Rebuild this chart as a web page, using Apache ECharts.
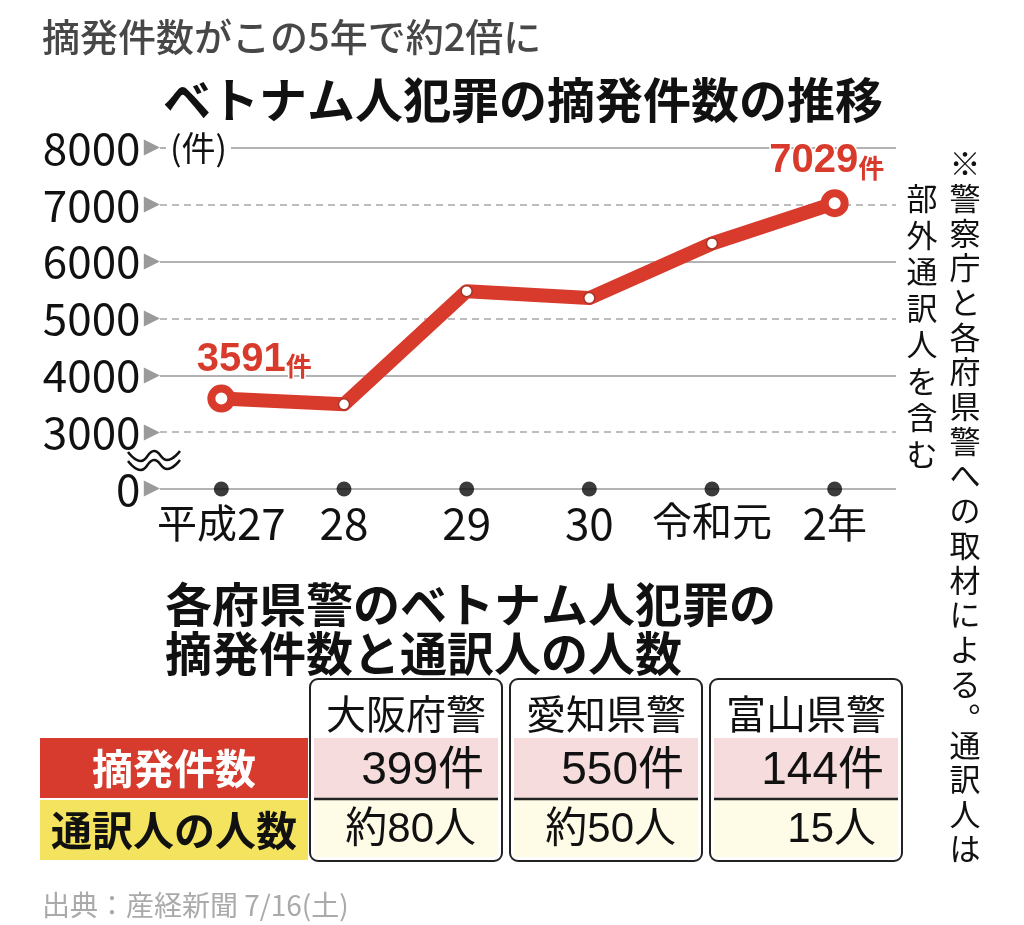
<!DOCTYPE html>
<html>
<head>
<meta charset="utf-8">
<title>ベトナム人犯罪の摘発件数の推移</title>
<script src="https://cdn.jsdelivr.net/npm/echarts@6/dist/echarts.min.js"></script>
<style>
  html, body { margin: 0; padding: 0; background: #fff; }
  #main { width: 1024px; height: 925px; }
</style>
</head>
<body>
<div id="main"></div>
<script>
// 折れ線: ベトナム人犯罪の摘発件数
const years = ['平成27', '28', '29', '30', '令和元', '2年'];
const arrests = [3591, 3490, 5480, 5360, 6320, 7029];

// y軸は0〜3000の間が省略されている。目盛り上の2000を「0」として描く
const AXIS_ZERO = 2000;
const AXIS_MAX = 8000;
const AXIS_STEP = 1000;

// 表: 各府県警
const prefs = ['大阪府警', '愛知県警', '富山県警'];
const prefArrests = [399, 550, 144];
const interpreters = [80, 50, 15];
const interpApprox = [true, true, false];

const subtitle = '摘発件数がこの5年で約2倍に';
const chartTitle = 'ベトナム人犯罪の摘発件数の推移';
const tableTitle = ['各府県警のベトナム人犯罪の', '摘発件数と通訳人の人数'];
const noteRight = ['※警察庁と各府県警への取材による。', '通訳人は'];
const noteLeft = '部外通訳人を含む';
const source = '出典：産経新聞 7/16(土)';

const RED = '#d83a2c';
const JP = '"Noto Sans CJK JP", sans-serif';
const SANS = '"Liberation Sans", "Noto Sans CJK JP", sans-serif';

const chart = echarts.init(document.getElementById('main'));

// 線上の点 (両端は白抜きの大きい丸+ラベル)
const lineData = arrests.map((v, i) => {
    const isEnd = i === 0 || i === arrests.length - 1;
    if (!isEnd) return {value: v};
    return {
        value: v,
        symbolSize: 20,
        itemStyle: {color: '#fff', borderColor: RED, borderWidth: 8},
        label: {show: true, offset: i === 0 ? [33, 0] : [-8, -3]}
    };
});

const graphic = [];
function text(x, y, str, font, fill, extra) {
    graphic.push({
        type: 'text', z: 100,
        style: Object.assign({x: x, y: y, text: str, font: font, fill: fill, verticalAlign: 'middle'}, extra || {})
    });
}
function vtext(x, top, str, pitch) {
    const chars = str.replace(/。/g, '︒').split('');
    text(x, top, chars.join('\n'), '31px ' + JP, '#111',
        {align: 'center', verticalAlign: 'top', lineHeight: pitch});
}

text(42, 37, subtitle, '500 38px ' + JP, '#474747');
text(163, 100, chartTitle, 'bold 48px ' + JP, '#111');
text(166, 148, '(件)', '34px ' + JP, '#111', {backgroundColor: '#fff', padding: [2, 4]});

// 縦書きの注記
vtext(965, 146, noteRight[0], 34.7);
vtext(965, 728, noteRight[1], 34.3);
vtext(922, 180, noteLeft, 36.5);

// 省略記号 (波線)
[0, 9].forEach(dy => {
    graphic.push({
        type: 'polyline', z: 100,
        shape: {points: [[128, 452 + dy], [141, 461 + dy], [154, 451 + dy], [167, 460 + dy], [180, 451 + dy]], smooth: 0.5},
        style: {stroke: '#111', lineWidth: 2.5, fill: null}
    });
});

// 表
tableTitle.forEach((t, i) => text(165, 604 + i * 49, t, 'bold 47px ' + JP, '#111'));

graphic.push({type: 'rect', z: 100, shape: {x: 40, y: 738, width: 268, height: 60}, style: {fill: '#d63b2d'}});
graphic.push({type: 'rect', z: 100, shape: {x: 40, y: 800, width: 268, height: 60}, style: {fill: '#f4e35e'}});
text(174, 768, '摘発件数', 'bold 41px ' + JP, '#fff', {align: 'center'});
text(174, 830, '通訳人の人数', 'bold 41px ' + JP, '#111', {align: 'center'});

prefs.forEach((p, i) => {
    const x = 310 + i * 200;
    const w = 192;
    graphic.push({type: 'rect', z: 100, shape: {x: x, y: 679, width: w, height: 182, r: 8},
        style: {fill: '#fff', stroke: '#222', lineWidth: 2}});
    graphic.push({type: 'rect', z: 101, shape: {x: x + 4, y: 738, width: w - 8, height: 60}, style: {fill: '#f6dcdc'}});
    graphic.push({type: 'rect', z: 101, shape: {x: x + 4, y: 800, width: w - 8, height: 57}, style: {fill: '#fefbe6'}});
    graphic.push({type: 'line', z: 102, shape: {x1: x + 4, y1: 799, x2: x + w - 4, y2: 799},
        style: {stroke: '#222', lineWidth: 2.5}});
    graphic.push({type: 'text', z: 103, style: {x: x + w / 2, y: 714, text: p, font: '40px ' + JP, fill: '#111',
        align: 'center', verticalAlign: 'middle'}});
    graphic.push({type: 'text', z: 103, style: {x: x + w - 18, y: 771, text: prefArrests[i] + '件', font: '46px ' + SANS,
        fill: '#111', align: 'right', verticalAlign: 'middle'}});
    graphic.push({type: 'text', z: 103, style: {x: x + w - 26, y: 830,
        text: (interpApprox[i] ? '約' : '') + interpreters[i] + '人', font: '42px ' + SANS,
        fill: '#111', align: 'right', verticalAlign: 'middle'}});
});

text(42, 905, source, '28px ' + JP, '#aaa');

const option = {
    animation: false,
    backgroundColor: '#fff',
    grid: {left: 160, right: 128, top: 148, bottom: 436},
    xAxis: {
        type: 'category',
        data: years,
        boundaryGap: true,
        axisLine: {show: false},
        axisTick: {show: false},
        axisLabel: {
            interval: 0,
            hideOverlap: false,
            margin: 12,
            color: '#111',
            fontFamily: JP,
            fontSize: 40,
            formatter: s => s.replace(/(\d+)/g, '{d|$1}'),
            rich: {d: {fontFamily: JP, fontSize: 44, color: '#111'}}
        }
    },
    yAxis: [{
        type: 'value',
        min: AXIS_ZERO, max: AXIS_MAX, interval: AXIS_STEP,
        axisLine: {show: false},
        axisTick: {show: false},
        axisLabel: {
            margin: 0,
            formatter: v => '{n|' + (v === AXIS_ZERO ? 0 : v) + '} {t|▶}',
            rich: {
                n: {fontFamily: JP, fontSize: 44, color: '#111'},
                t: {fontFamily: '"DejaVu Sans"', fontSize: 21, color: '#9a9a9a'}
            }
        },
        // 実線 (0, 4000, 6000, 8000)
        splitLine: {lineStyle: {color: ['#9a9a9a', 'rgba(0,0,0,0)'], width: 1.5}}
    }, {
        type: 'value',
        min: AXIS_ZERO, max: AXIS_MAX, interval: AXIS_STEP,
        position: 'left',
        axisLine: {show: false},
        axisTick: {show: false},
        axisLabel: {show: false},
        // 破線 (3000, 5000, 7000)
        splitLine: {lineStyle: {color: ['rgba(0,0,0,0)', '#a8a8a8'], width: 1.5, type: [7, 5]}}
    }],
    series: [{
        type: 'scatter',
        data: years.map(y => [y, AXIS_ZERO]),
        symbolSize: 15,
        itemStyle: {color: '#0a0a0a'},
        silent: true,
        z: 3
    }, {
        type: 'line',
        data: lineData,
        symbol: 'circle',
        symbolSize: 11,
        itemStyle: {color: '#fff', borderColor: '#a83426', borderWidth: 1.5},
        lineStyle: {color: RED, width: 14, cap: 'round', join: 'round'},
        label: {
            show: false,
            position: 'top',
            distance: 5,
            formatter: p => '{n|' + p.value + '}{u|件}',
            textBorderColor: '#fff',
            textBorderWidth: 3,
            rich: {
                n: {fontFamily: SANS, fontSize: 40, fontWeight: 'bold', color: RED},
                u: {fontFamily: JP, fontSize: 26, fontWeight: 'bold', color: RED, verticalAlign: 'bottom'}
            }
        },
        emphasis: {disabled: true},
        silent: true,
        z: 4
    }],
    graphic: graphic
};

chart.setOption(option);
</script>
</body>
</html>
